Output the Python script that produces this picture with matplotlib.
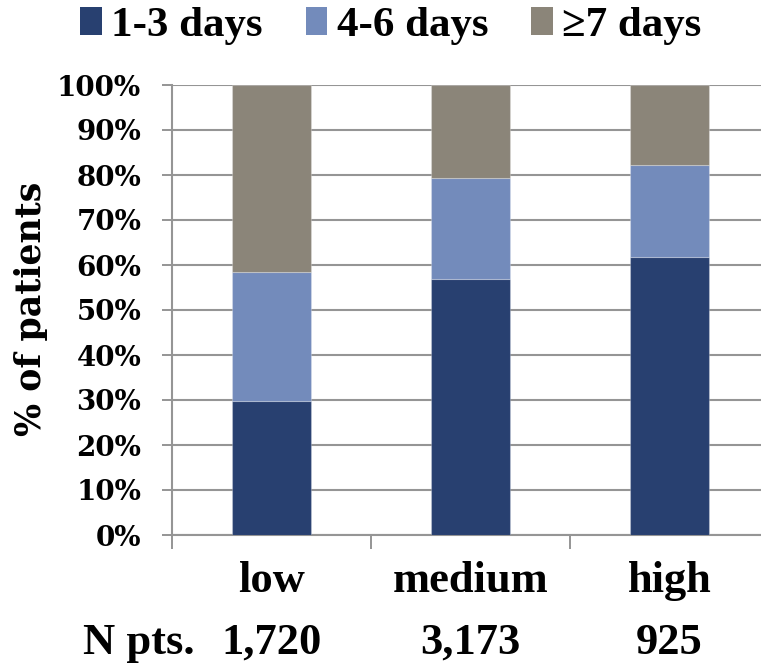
import matplotlib
matplotlib.use("Agg")
import matplotlib.pyplot as plt
from matplotlib.patches import Patch
import matplotlib.transforms as mtrans
import numpy as np

categories = ["low", "medium", "high"]
n_pts = ["1,720", "3,173", "925"]
series_names = ["1-3 days", "4-6 days", "\u22657 days"]
d1_3 = [29.8, 57.0, 61.8]
d4_6 = [28.6, 22.3, 20.5]
d7p = [41.6, 20.7, 17.7]
yticks = [0, 10, 20, 30, 40, 50, 60, 70, 80, 90, 100]
colors = ["#284070", "#738bbb", "#8b8579"]

W, H = 761, 663
fig = plt.figure(figsize=(W / 100, H / 100), dpi=100)
L, R, T, B = 172, 769, 85, 535
ax = fig.add_axes([L / W, 1 - B / H, (R - L) / W, (B - T) / H])

serif_bold = dict(family="Liberation Serif", weight="bold")
tick_font = dict(family="DejaVu Serif", weight="bold")

x = np.arange(len(categories))
bottom = np.zeros(len(categories))
for vals, col, name in zip([d1_3, d4_6, d7p], colors, series_names):
    ax.bar(x, vals, width=0.392, bottom=bottom, color=col, label=name,
           edgecolor=(1, 1, 1, 0.25), linewidth=0.8, zorder=3)
    bottom += np.array(vals)

ax.set_xlim(-0.5, 2.5)
ax.set_ylim(0, 100)
grid_c = "#959595"
ax.set_yticks(yticks)
ax.set_yticklabels([f"{v}%" for v in yticks], fontsize=20, **tick_font)
ax.yaxis.grid(True, color=grid_c, linewidth=1.5, zorder=0)
ax.set_axisbelow(True)
ax.tick_params(axis="y", direction="out", length=7.2, width=1.4, color=grid_c, pad=15)

ax.set_xticks(x)
ax.set_xticklabels(categories, fontsize=32, **serif_bold)
ax.tick_params(axis="x", which="major", length=0, pad=19)
ax.set_xticks([-0.5, 0.5, 1.5, 2.5], minor=True)
ax.tick_params(axis="x", which="minor", direction="out", length=10, width=1.4, color=grid_c)

for s in ["top", "right"]:
    ax.spines[s].set_visible(False)
for s in ["left", "bottom"]:
    ax.spines[s].set_color(grid_c)
    ax.spines[s].set_linewidth(1.5)

ax.set_ylabel("% of patients", fontsize=25, **tick_font)
ax.yaxis.set_label_coords(48 / W, 1 - 309 / H, transform=fig.transFigure)

trans = mtrans.blended_transform_factory(ax.transData, fig.transFigure)
for xi, n in zip(x, n_pts):
    ax.text(xi, 1 - 643 / H, n, transform=trans, ha="center", va="center",
            fontsize=32, **serif_bold)
fig.text(139 / W, 1 - 643 / H, "N pts.", ha="center", va="center", fontsize=32, **serif_bold)

handles = [Patch(facecolor=c, edgecolor="none") for c in colors]
fig.legend(handles, series_names, loc="center", bbox_to_anchor=(391 / W, 1 - 26 / H),
           ncol=3, frameon=False, prop=dict(size=31, **serif_bold),
           handlelength=0.5, handleheight=0.65, handletextpad=0.22, columnspacing=1.0,
           borderpad=0, borderaxespad=0)

fig.savefig("out.png", dpi=100)
